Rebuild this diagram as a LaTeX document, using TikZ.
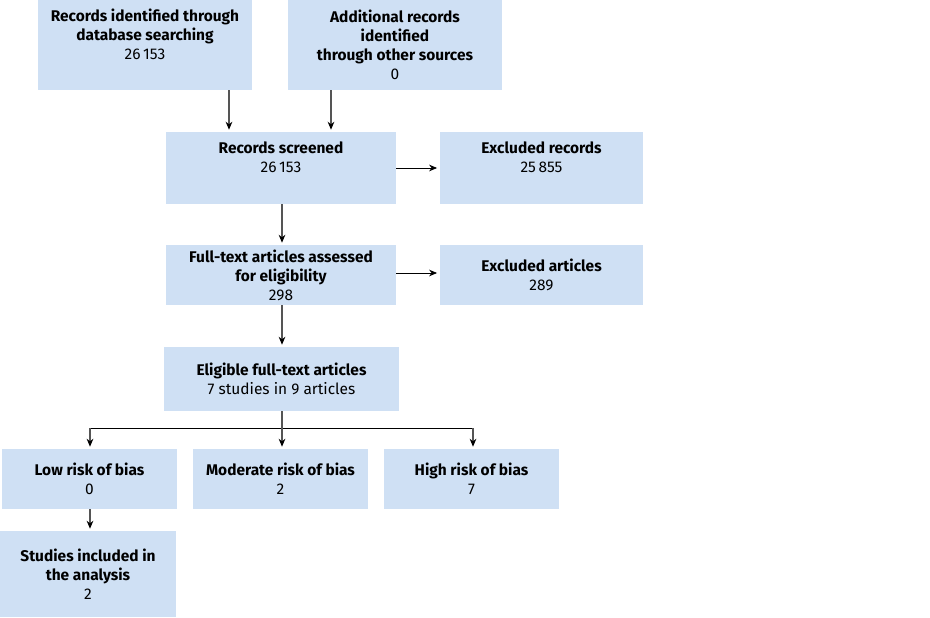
\documentclass[tikz,border=0pt]{standalone}
\usepackage{fontspec}
\setmainfont{Fira Sans}
\usepackage{tikz}
\usetikzlibrary{arrows.meta,positioning,calc}
\usepackage{xcolor}
\definecolor{boxblue}{HTML}{CFE0F4}
\definecolor{linegray}{HTML}{555555}

\begin{document}
\begin{tikzpicture}[
  x=0.75pt, y=-0.75pt,
  font=\fontsize{11.6}{14.25}\selectfont,
  box/.style={fill=boxblue, inner sep=0pt, align=center,
              minimum width=#1},
  box/.default=120pt,
  txt/.style={anchor=north, inner sep=0pt, align=center},
  arr/.style={-{Stealth[length=6pt,width=5pt,color=black]}, linegray, line width=0.9pt},
  harr/.style={-{Stealth[length=6pt,width=5pt]}, black, line width=0.6pt},
]
\useasboundingbox (0,0) rectangle (930,617);

% identification
\node[box=160.5pt, minimum height=67.5pt] (ident) at (145,45) {};
\node[txt] (identtxt) at (145,9) {\textbf{Records identified through}\\
  \textbf{database searching}\\26\,153};
\node[box=160.5pt, minimum height=67.5pt] (other) at (395,45)
  {\textbf{Additional records}\\\textbf{identified}\\
   \textbf{through other sources}\\0};

% screening
\node[box=172.5pt, minimum height=54pt] (screen) at (281,168) {};
\node[txt] (screentxt) at (281,141) {\textbf{Records screened}\\26\,153};
\node[box=152.25pt, minimum height=54pt] (exrec) at (541.5,168) {};
\node[txt] (exrectxt) at (541.5,141) {\textbf{Excluded records}\\25\,855};

% eligibility
\node[box=172.5pt, minimum height=45pt] (full) at (281,275)
  {\textbf{Full-text articles assessed}\\\textbf{for eligibility}\\298};
\node[box=152.25pt, minimum height=45pt] (exart) at (541.5,275)
  {\textbf{Excluded articles}\\289};
\node[box=176.25pt, minimum height=48pt] (elig) at (281.5,379)
  {\textbf{Eligible full-text articles}\\7 studies in 9 articles};

% risk of bias
\node[box=131.25pt, minimum height=45pt] (low) at (89.5,479)
  {\textbf{Low risk of bias}\\0};
\node[box=131.25pt, minimum height=45pt] (mod) at (280.5,479)
  {\textbf{Moderate risk of bias}\\2};
\node[box=131.25pt, minimum height=45pt] (high) at (471.5,479)
  {\textbf{High risk of bias}\\7};
\node[box=132pt, minimum height=64.5pt] (incl) at (88,574)
  {\textbf{Studies included in}\\\textbf{the analysis}\\2};

% arrows
\coordinate (xa) at (229,0);
\coordinate (xb) at (331,0);
\coordinate (xl) at (90,0);
\coordinate (xm) at (282,0);
\coordinate (xh) at (473,0);
\coordinate (split) at (282,428);
\draw[arr] (ident.south -| xa) -- ([yshift=1.5pt]screen.north -| xa);
\draw[arr] (other.south -| xb) -- ([yshift=1.5pt]screen.north -| xb);
\draw[harr] (screen.east) -- ([xshift=-2pt]exrec.west);
\draw[arr] (screen.south -| xm) -- ([yshift=1.5pt]full.north -| xm);
\draw[harr] ([yshift=1.5pt]full.east) -- ([xshift=-2pt,yshift=1.5pt]exart.west);
\draw[arr] (full.south -| xm) -- ([yshift=1.5pt]elig.north -| xm);
\draw[linegray, line width=0.9pt] (elig.south -| xm) -- (split);
\draw[black, line width=0.6pt] (split -| xl) -- (split -| xh);
\foreach \x/\n in {xl/low, xm/mod, xh/high} {
  \draw[arr] (split -| \x) -- ([yshift=1.5pt]\n.north -| \x);
}
\draw[arr] (low.south -| xl) -- ([yshift=1.5pt]incl.north -| xl);
\end{tikzpicture}
\end{document}
